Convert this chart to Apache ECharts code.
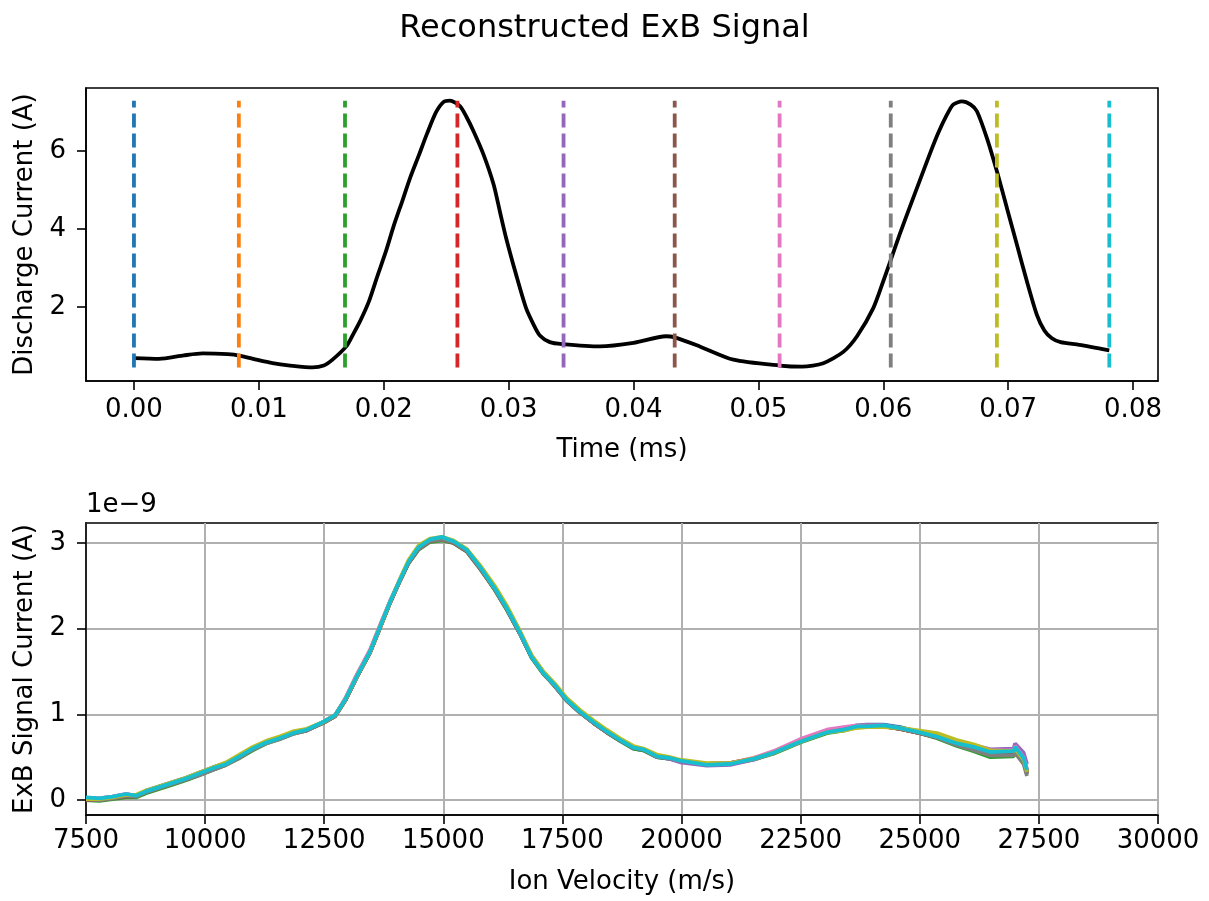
<!DOCTYPE html>
<html>
<head>
<meta charset="utf-8">
<script src="https://cdn.jsdelivr.net/npm/echarts@6/dist/echarts.min.js"></script>
<style>
html,body{margin:0;padding:0;background:#fff;}
#chart{width:1209px;height:901px;}
</style>
</head>
<body>
<div id="chart"></div>
<script>
// ---------- DATA ----------
// Top panel: discharge current trace (time in ms, current in A)
const dischargeTime = [0, 0.002, 0.004, 0.0055, 0.0075, 0.0085, 0.0098, 0.0111, 0.0125, 0.0143, 0.0152, 0.0159, 0.017, 0.0175, 0.0181, 0.0188, 0.0195, 0.0202, 0.0208, 0.0215, 0.0221, 0.0228, 0.0235, 0.0242, 0.0248, 0.0253, 0.0261, 0.0266, 0.0272, 0.028, 0.0288, 0.0293, 0.0298, 0.0306, 0.0314, 0.032, 0.0325, 0.0333, 0.0343, 0.0373, 0.040, 0.0426, 0.0433, 0.0453, 0.048, 0.0517, 0.0535, 0.0552, 0.0568, 0.0579, 0.0592, 0.060, 0.0607, 0.0613, 0.0621, 0.0629, 0.0637, 0.0644, 0.0651, 0.0656, 0.0663, 0.067, 0.0675, 0.0683, 0.0691, 0.0699, 0.0707, 0.0715, 0.0723, 0.0729, 0.0735, 0.0742, 0.0757, 0.0781];
const dischargeCurrent = [0.69, 0.67, 0.76, 0.81, 0.79, 0.75, 0.65, 0.56, 0.50, 0.45, 0.50, 0.65, 0.99, 1.27, 1.63, 2.13, 2.80, 3.45, 4.08, 4.73, 5.30, 5.88, 6.47, 7.00, 7.26, 7.29, 7.15, 6.89, 6.50, 5.90, 5.14, 4.45, 3.77, 2.83, 1.97, 1.55, 1.27, 1.10, 1.05, 0.99, 1.08, 1.25, 1.22, 0.99, 0.65, 0.50, 0.47, 0.56, 0.85, 1.25, 1.97, 2.66, 3.30, 3.85, 4.54, 5.22, 5.90, 6.46, 6.93, 7.19, 7.27, 7.19, 7.02, 6.33, 5.48, 4.54, 3.60, 2.66, 1.80, 1.40, 1.20, 1.10, 1.03, 0.89];
// Sample times marked by dashed vertical lines (ms)
const sampleTimes = [0, 0.0084, 0.0169, 0.0259, 0.0344, 0.0433, 0.0517, 0.0606, 0.0691, 0.0781];
const topXTicks = [0, 0.01, 0.02, 0.03, 0.04, 0.05, 0.06, 0.07, 0.08];
const topYTicks = [2, 4, 6];

// Bottom panel: ExB signal current (units of 1e-9 A) vs ion velocity (m/s)
const ionVelocity = [7500, 7780, 8060, 8340, 8550, 8760, 9040, 9320, 9600, 9880, 10160, 10440, 10720, 11000, 11280, 11560, 11840, 12130, 12480, 12730, 12940, 13180, 13460, 13670, 13880, 14090, 14270, 14480, 14720, 14970, 15210, 15490, 15770, 16080, 16330, 16610, 16850, 17100, 17340, 17590, 17870, 18150, 18430, 18710, 18990, 19200, 19480, 19760, 19970, 20530, 21020, 21510, 21930, 22490, 23050, 23400, 23680, 23890, 24240, 24590, 25000, 25360, 25780, 26130, 26480, 26970, 27000, 27180, 27250];
const exb0 = [0.02,0.01,0.03,0.06,0.05,0.11,0.16,0.21,0.26,0.32,0.38,0.43,0.51,0.60,0.67,0.72,0.78,0.82,0.91,0.99,1.17,1.44,1.73,2.02,2.31,2.57,2.78,2.94,3.03,3.06,3.01,2.91,2.71,2.46,2.23,1.94,1.67,1.48,1.33,1.16,1.02,0.90,0.79,0.69,0.60,0.58,0.50,0.48,0.46,0.42,0.42,0.48,0.55,0.69,0.80,0.83,0.87,0.88,0.88,0.85,0.79,0.73,0.65,0.61,0.55,0.55,0.60,0.48,0.33];
const exb1 = [0.02,0.01,0.03,0.06,0.05,0.10,0.15,0.20,0.25,0.31,0.37,0.42,0.51,0.61,0.68,0.73,0.79,0.82,0.90,0.98,1.16,1.43,1.72,2.01,2.30,2.56,2.77,2.94,3.03,3.06,3.02,2.92,2.72,2.48,2.25,1.96,1.68,1.49,1.34,1.17,1.03,0.91,0.80,0.70,0.61,0.59,0.51,0.49,0.46,0.42,0.43,0.49,0.56,0.69,0.80,0.82,0.85,0.86,0.86,0.83,0.78,0.74,0.66,0.61,0.55,0.55,0.60,0.48,0.34];
const exb2 = [0.00,-0.01,0.01,0.03,0.03,0.08,0.13,0.18,0.23,0.29,0.35,0.41,0.49,0.58,0.66,0.71,0.77,0.81,0.90,0.98,1.16,1.43,1.72,2.01,2.30,2.56,2.76,2.92,3.01,3.03,3.00,2.90,2.70,2.45,2.22,1.94,1.66,1.47,1.33,1.16,1.02,0.90,0.79,0.69,0.60,0.58,0.50,0.48,0.45,0.42,0.42,0.47,0.54,0.67,0.78,0.81,0.85,0.86,0.86,0.83,0.78,0.72,0.63,0.57,0.50,0.51,0.56,0.44,0.31];
const exb3 = [0.01,0.01,0.03,0.06,0.05,0.10,0.15,0.20,0.25,0.31,0.37,0.42,0.50,0.60,0.67,0.72,0.78,0.82,0.90,0.98,1.16,1.43,1.72,2.01,2.30,2.56,2.77,2.93,3.02,3.05,3.01,2.91,2.71,2.46,2.23,1.94,1.67,1.48,1.33,1.16,1.02,0.90,0.79,0.70,0.61,0.59,0.51,0.49,0.46,0.42,0.43,0.48,0.55,0.68,0.80,0.83,0.86,0.86,0.86,0.83,0.78,0.73,0.65,0.60,0.54,0.54,0.59,0.47,0.33];
const exb4 = [0.02,0.02,0.04,0.07,0.05,0.10,0.15,0.20,0.25,0.31,0.37,0.42,0.51,0.60,0.67,0.72,0.78,0.82,0.91,0.99,1.18,1.45,1.74,2.03,2.31,2.57,2.78,2.95,3.04,3.06,3.02,2.92,2.72,2.47,2.24,1.95,1.68,1.48,1.34,1.17,1.03,0.91,0.80,0.70,0.61,0.59,0.51,0.48,0.44,0.40,0.41,0.47,0.55,0.68,0.80,0.83,0.86,0.87,0.87,0.84,0.80,0.75,0.68,0.64,0.59,0.60,0.66,0.55,0.42];
const exb5 = [0.00,0.00,0.02,0.04,0.04,0.09,0.14,0.19,0.24,0.30,0.36,0.42,0.50,0.59,0.67,0.72,0.78,0.81,0.90,0.98,1.16,1.43,1.72,2.01,2.30,2.56,2.77,2.93,3.02,3.04,3.00,2.90,2.70,2.46,2.23,1.94,1.67,1.48,1.33,1.16,1.02,0.90,0.79,0.70,0.61,0.59,0.51,0.49,0.46,0.42,0.43,0.48,0.56,0.70,0.81,0.84,0.86,0.86,0.86,0.83,0.78,0.73,0.65,0.60,0.53,0.53,0.58,0.45,0.30];
const exb6 = [0.02,0.02,0.04,0.07,0.05,0.10,0.15,0.20,0.25,0.31,0.37,0.42,0.51,0.60,0.67,0.72,0.78,0.82,0.91,0.99,1.18,1.46,1.75,2.04,2.32,2.57,2.78,2.95,3.04,3.06,3.02,2.92,2.72,2.47,2.25,1.96,1.69,1.49,1.34,1.17,1.04,0.92,0.81,0.71,0.62,0.59,0.51,0.49,0.46,0.42,0.43,0.49,0.57,0.71,0.82,0.85,0.87,0.87,0.87,0.84,0.79,0.74,0.67,0.63,0.58,0.58,0.63,0.50,0.36];
const exb7 = [0.01,0.00,0.02,0.05,0.04,0.09,0.14,0.19,0.24,0.29,0.35,0.41,0.49,0.59,0.66,0.71,0.77,0.81,0.90,0.98,1.16,1.43,1.72,2.01,2.30,2.56,2.77,2.93,3.02,3.04,3.01,2.91,2.71,2.46,2.23,1.94,1.67,1.48,1.33,1.16,1.02,0.90,0.79,0.70,0.61,0.59,0.51,0.49,0.46,0.42,0.43,0.48,0.55,0.68,0.79,0.82,0.85,0.86,0.86,0.83,0.78,0.73,0.64,0.58,0.52,0.52,0.55,0.42,0.28];
const exb8 = [0.01,0.01,0.03,0.06,0.06,0.11,0.16,0.21,0.26,0.32,0.38,0.44,0.53,0.62,0.69,0.74,0.80,0.83,0.91,0.99,1.17,1.44,1.73,2.02,2.31,2.58,2.80,2.97,3.05,3.07,3.03,2.93,2.74,2.50,2.27,1.97,1.69,1.50,1.36,1.19,1.05,0.93,0.82,0.72,0.63,0.60,0.53,0.50,0.47,0.43,0.43,0.48,0.55,0.68,0.79,0.81,0.84,0.85,0.85,0.84,0.81,0.78,0.70,0.65,0.58,0.57,0.60,0.47,0.33];
const exb9 = [0.03,0.02,0.04,0.07,0.05,0.10,0.15,0.20,0.25,0.31,0.37,0.42,0.51,0.60,0.67,0.72,0.78,0.82,0.91,0.99,1.17,1.44,1.73,2.02,2.31,2.57,2.78,2.95,3.04,3.07,3.02,2.92,2.72,2.47,2.24,1.95,1.67,1.48,1.34,1.17,1.03,0.91,0.80,0.70,0.61,0.59,0.51,0.49,0.46,0.41,0.42,0.48,0.55,0.68,0.79,0.82,0.86,0.86,0.87,0.84,0.79,0.74,0.66,0.62,0.56,0.57,0.62,0.49,0.35];
const bottomYTicks = [0, 1, 2, 3];

// ---------- STYLE ----------
const tab10 = ['#1f77b4','#ff7f0e','#2ca02c','#d62728','#9467bd','#8c564b','#e377c2','#7f7f7f','#bcbd22','#17becf'];
const FONT = 'DejaVu Sans';
const FS = 26;
const LW = 3.8;
const exbSeries = [exb0, exb1, exb2, exb3, exb4, exb5, exb6, exb7, exb8, exb9];

const chart = echarts.init(document.getElementById('chart'), null, {renderer: 'canvas'});

const vMin = Math.min(...dischargeCurrent);
const vMax = Math.max(...dischargeCurrent);

const series = [];
series.push({
  type: 'line', xAxisIndex: 0, yAxisIndex: 0,
  data: dischargeTime.map((t, i) => [t, dischargeCurrent[i]]),
  showSymbol: false, smooth: 0.25,
  lineStyle: {color: '#000', width: LW, join: 'round'}, z: 3
});
sampleTimes.forEach((t, i) => {
  series.push({
    type: 'line', xAxisIndex: 0, yAxisIndex: 0,
    data: [[t, vMin], [t, vMax]],
    showSymbol: false,
    lineStyle: {color: tab10[i], width: LW, type: [14, 6]}, z: 4
  });
});
exbSeries.forEach((arr, i) => {
  series.push({
    type: 'line', xAxisIndex: 1, yAxisIndex: 1,
    data: ionVelocity.map((v, j) => [v, arr[j]]),
    showSymbol: false,
    lineStyle: {color: tab10[i], width: LW}, z: 3
  });
});

const axisLineStyle = {show: true, onZero: false, lineStyle: {color: '#000', width: 1.6}};
const tickStyle = {show: true, inside: false, length: 9, lineStyle: {color: '#000', width: 1.6}};
const nameStyle = {fontSize: FS, color: '#000', fontFamily: FONT};
const labelBase = {fontSize: FS, color: '#000', fontFamily: FONT};

const option = {
  animation: false,
  backgroundColor: '#fff',
  textStyle: {fontFamily: FONT},
  title: {
    text: 'Reconstructed ExB Signal', left: 'center', top: 8,
    textStyle: {fontSize: 32, fontWeight: 'normal', color: '#000', fontFamily: FONT}
  },
  grid: [
    {left: 86, top: 88, width: 1072, height: 293, show: true, borderColor: '#000', borderWidth: 1.6, containLabel: false},
    {left: 86, top: 523, width: 1072, height: 292, show: true, borderColor: '#000', borderWidth: 1.6, containLabel: false}
  ],
  xAxis: [
    {
      type: 'value', gridIndex: 0, min: -0.00384, max: 0.0820,
      axisLine: axisLineStyle,
      axisTick: Object.assign({}, tickStyle, {customValues: topXTicks}),
      axisLabel: Object.assign({}, labelBase, {customValues: topXTicks, formatter: v => v.toFixed(2), margin: 16}),
      splitLine: {show: false},
      name: 'Time (ms)', nameLocation: 'middle', nameGap: 56, nameTextStyle: nameStyle
    },
    {
      type: 'value', gridIndex: 1, min: 7500, max: 30000, interval: 2500,
      axisLine: axisLineStyle,
      axisTick: tickStyle,
      axisLabel: Object.assign({}, labelBase, {formatter: v => String(v), margin: 13}),
      splitLine: {show: true, lineStyle: {color: '#b0b0b0', width: 2}},
      name: 'Ion Velocity (m/s)', nameLocation: 'middle', nameGap: 54, nameTextStyle: nameStyle
    }
  ],
  yAxis: [
    {
      type: 'value', gridIndex: 0, min: 0.103, max: 7.615,
      axisLine: axisLineStyle,
      axisTick: Object.assign({}, tickStyle, {customValues: topYTicks}),
      axisLabel: Object.assign({}, labelBase, {customValues: topYTicks, formatter: v => String(v), margin: 20}),
      splitLine: {show: false},
      name: 'Discharge Current (A)', nameLocation: 'middle', nameGap: 44, nameRotate: 90, nameTextStyle: nameStyle
    },
    {
      type: 'value', gridIndex: 1, min: -0.175, max: 3.232,
      axisLine: axisLineStyle,
      axisTick: Object.assign({}, tickStyle, {customValues: bottomYTicks}),
      axisLabel: Object.assign({}, labelBase, {customValues: bottomYTicks, formatter: v => String(v), margin: 20}),
      splitLine: {show: true, lineStyle: {color: '#b0b0b0', width: 2}},
      name: 'ExB Signal Current (A)', nameLocation: 'middle', nameGap: 44, nameRotate: 90, nameTextStyle: nameStyle
    }
  ],
  graphic: [
    {type: 'text', left: 86, top: 492, style: {text: '1e\u22129', fontSize: FS, fill: '#000', fontFamily: FONT}}
  ],
  series: series
};
chart.setOption(option);
</script>
</body>
</html>
